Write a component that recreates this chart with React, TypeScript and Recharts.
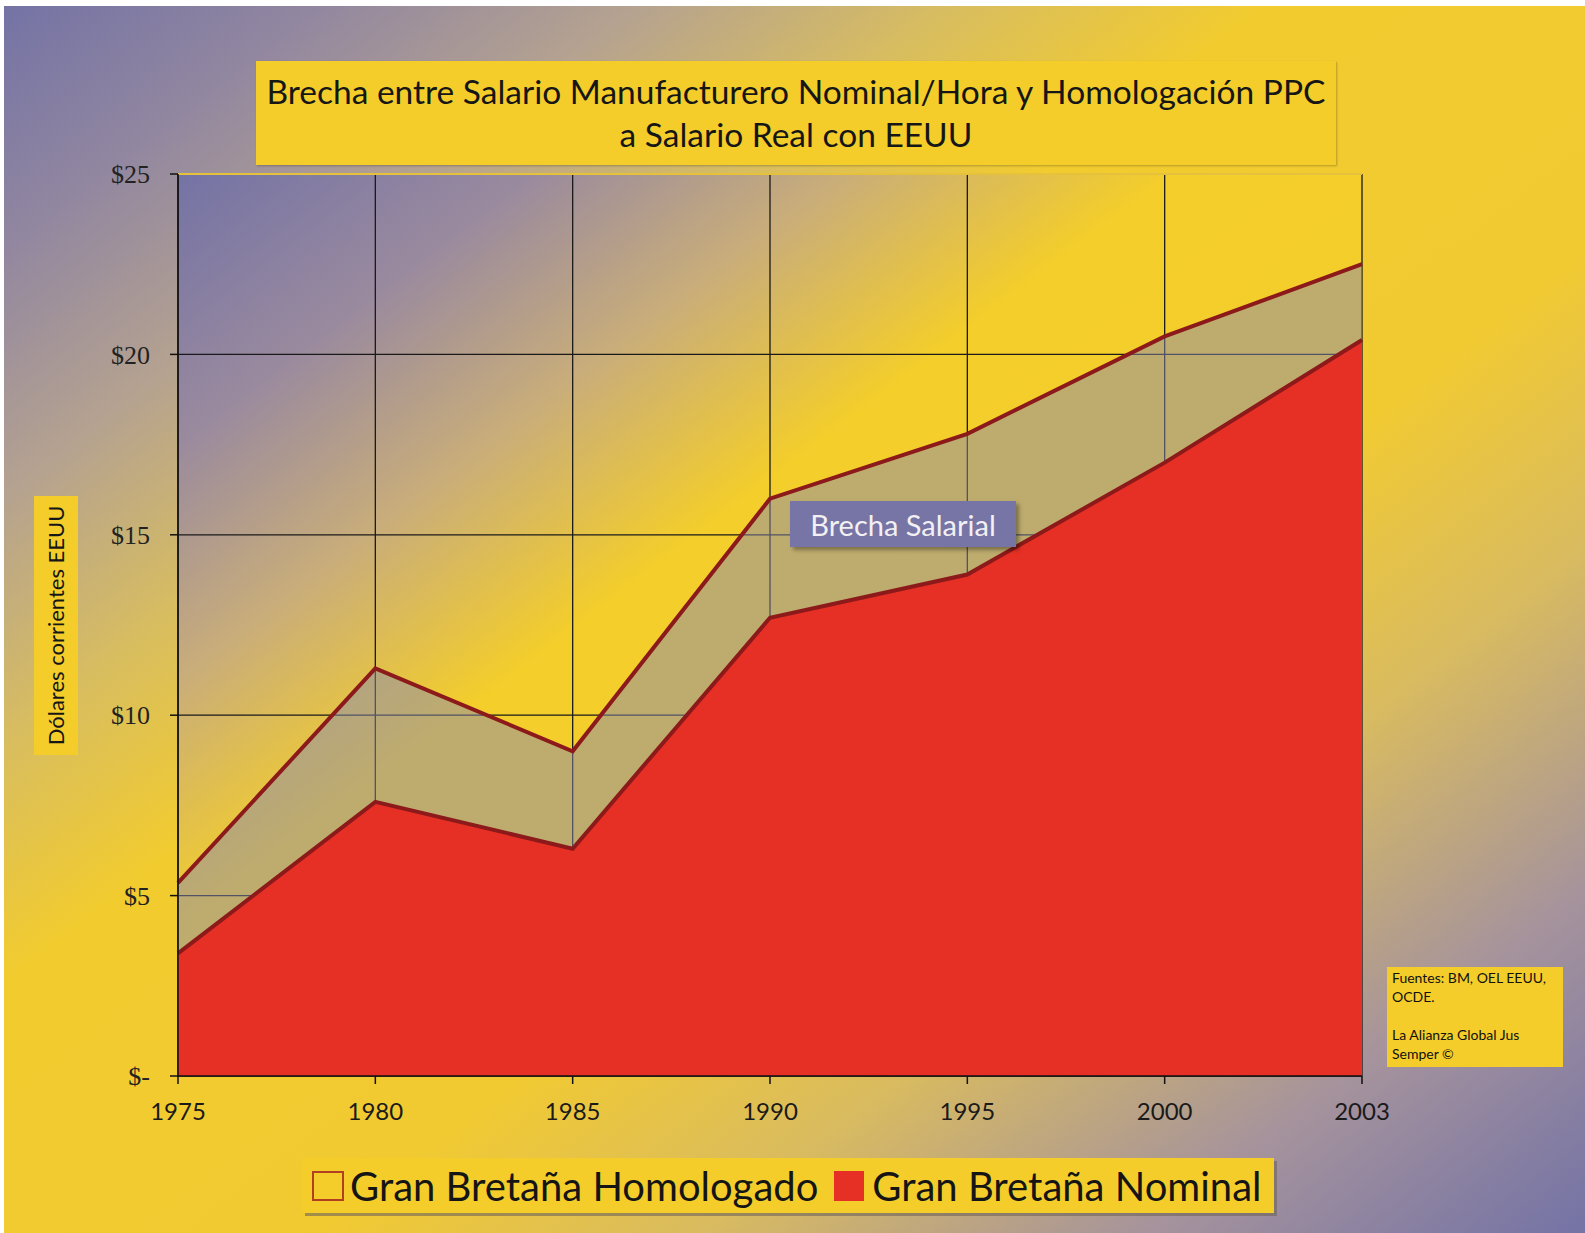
import React from "react";
import {
  AreaChart, Area, XAxis, YAxis, CartesianGrid, Legend, ReferenceLine,
} from "recharts";

// data (US$ per hour)
const years = ["1975", "1980", "1985", "1990", "1995", "2000", "2003"];
const homologado = [5.35, 11.3, 9.0, 16.0, 17.8, 20.5, 22.5];
const nominal = [3.4, 7.6, 6.3, 12.7, 13.9, 17.0, 20.4];
const yTicks = [0, 5, 10, 15, 20, 25];

const seriesNames = ["Gran Bretaña Homologado", "Gran Bretaña Nominal"];
const titleLines = [
  "Brecha entre Salario Manufacturero Nominal/Hora y Homologación PPC",
  "a Salario Real con EEUU",
];
const yLabel = "Dólares corrientes EEUU";
const gapLabel = "Brecha Salarial";
const sourceLines = ["Fuentes: BM, OEL EEUU,", "OCDE.", "", "La Alianza Global Jus", "Semper ©"];

const data = years.map((year, i) => ({ year, homologado: homologado[i], nominal: nominal[i] }));

const YELLOW = "#f4cd2a";
const LINE = "#8c1a1a";
const RED = "#e63025";
const SANS = "Lato, 'Open Sans', sans-serif";

function LegendBox() {
  return (
    <div
      style={{
        background: YELLOW, height: 55, display: "flex", alignItems: "center",
        paddingLeft: 10, boxSizing: "border-box", fontFamily: SANS, fontSize: 40,
        color: "#151515", boxShadow: "3px 3px 0 rgba(110,100,90,0.6)", whiteSpace: "nowrap",
      }}
    >
      <span style={{ width: 28, height: 26, border: "2px solid #b0401f", marginRight: 6 }} />
      <span style={{ marginRight: 16 }}>{seriesNames[0]}</span>
      <span style={{ width: 30, height: 30, background: RED, marginRight: 8 }} />
      <span>{seriesNames[1]}</span>
    </div>
  );
}

export default function App() {
  return (
    <div
      style={{
        position: "absolute", left: 4, top: 6, width: 1581, height: 1227,
        background: "linear-gradient(to bottom right, #7473a5 0%, #9287a0 10%, #b5a290 20%, #d8bd60 30%, #f2cc2e 40%, #f1ca32 60%, #d9bb60 72%, #a6939c 86%, #7473a6 100%)",
        fontFamily: SANS,
      }}
    >
      <AreaChart
        width={1581}
        height={1227}
        data={data}
        margin={{ top: 168, right: 223, bottom: 117, left: 94 }}
      >
        <defs>
          <linearGradient id="plotBg" x1="0" y1="0" x2="1" y2="1">
            <stop offset="0%" stopColor="#7473a5" />
            <stop offset="15%" stopColor="#9a8a9e" />
            <stop offset="28%" stopColor="#c9ad7a" />
            <stop offset="42%" stopColor="#f4ce2a" />
            <stop offset="100%" stopColor="#f3cc2c" />
          </linearGradient>
        </defs>
        <CartesianGrid stroke="#1a1a1a" strokeWidth={1.3} fill="url(#plotBg)" fillOpacity={1} />
        <XAxis
          dataKey="year"
          height={40}
          tickSize={8}
          tickMargin={19}
          stroke="#111"
          strokeWidth={1.5}
          tick={{ fill: "#1a1a1a", fontSize: 24, fontFamily: SANS }}
        />
        <YAxis
          width={80}
          domain={[0, 25]}
          ticks={yTicks}
          tickSize={8}
          tickMargin={20}
          stroke="#111"
          strokeWidth={1.5}
          tick={{ fill: "#222", fontSize: 26, fontFamily: "'Liberation Serif', serif" }}
          tickFormatter={(v: number) => (v === 0 ? "$-" : `$${v}`)}
        />
        <ReferenceLine y={25} stroke="#e6c23c" strokeWidth={2} />
        <Area
          type="linear"
          dataKey="homologado"
          name={seriesNames[0]}
          stroke={LINE}
          strokeWidth={4}
          fill="#8789b1"
          fillOpacity={0.5}
          isAnimationActive={false}
        />
        <Area
          type="linear"
          dataKey="nominal"
          name={seriesNames[1]}
          stroke={LINE}
          strokeWidth={4}
          fill={RED}
          fillOpacity={1}
          isAnimationActive={false}
        />
        <Legend
          verticalAlign="middle"
          layout="horizontal"
          wrapperStyle={{ left: 298, top: 1152, width: 972, height: 55 }}
          content={() => <LegendBox />}
        />
      </AreaChart>

      {/* title */}
      <div
        style={{
          position: "absolute", left: 252, top: 55, width: 1080, height: 104,
          background: YELLOW, boxShadow: "1px 1px 2px rgba(0,0,0,0.25)",
          display: "flex", flexDirection: "column", justifyContent: "center", alignItems: "center",
          fontSize: 33.5, lineHeight: "43px", color: "#161616",
        }}
      >
        {titleLines.map((l) => <div key={l}>{l}</div>)}
      </div>

      {/* y axis label */}
      <div
        style={{
          position: "absolute", left: 30, top: 490, width: 44, height: 259, background: YELLOW,
          display: "flex", alignItems: "center", justifyContent: "center",
        }}
      >
        <div style={{ transform: "rotate(-90deg)", whiteSpace: "nowrap", fontSize: 22, color: "#161616" }}>
          {yLabel}
        </div>
      </div>

      {/* gap annotation */}
      <div
        style={{
          position: "absolute", left: 786, top: 495, width: 226, height: 46, background: "#7775a5",
          boxShadow: "3px 3px 4px rgba(0,0,0,0.35)", color: "#f2f0f2", fontSize: 29,
          display: "flex", alignItems: "center", justifyContent: "center",
        }}
      >
        {gapLabel}
      </div>

      {/* source box */}
      <div
        style={{
          position: "absolute", left: 1383, top: 961, width: 176, height: 100, background: YELLOW,
          boxSizing: "border-box", padding: "1px 5px", fontSize: 14, lineHeight: "19px", color: "#111",
        }}
      >
        {sourceLines.map((l, i) => <div key={i} style={{ height: 19 }}>{l}</div>)}
      </div>
    </div>
  );
}
